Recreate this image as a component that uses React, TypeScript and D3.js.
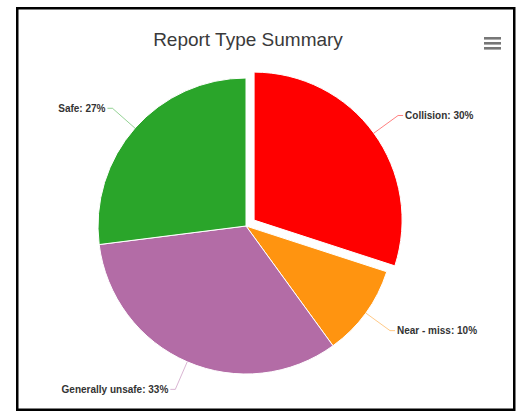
import React from "react";
import * as d3 from "d3";

const categories = ["Collision", "Near - miss", "Generally unsafe", "Safe"];
const values = [30, 10, 33, 27];
const colors = ["#ff0000", "#ff9410", "#b36ca6", "#2aa52a"];
const sliced = [true, false, false, false];

const W = 520;
const H = 411;
const cx = 246;
const cy = 226;
const R = 148;
const slicedOffset = 10;
const labelDistance = 30;

export default function App() {
  const pie = d3.pie<number>().sort(null).value((d) => d)(values);
  const arc = d3.arc<d3.PieArcDatum<number>>().innerRadius(0).outerRadius(R);
  const total = d3.sum(values);

  return (
    <svg
      width={W}
      height={H}
      style={{ position: "absolute", left: 0, top: 0, fontFamily: "'Liberation Sans', Arial, sans-serif" }}
    >
      <rect x={0} y={0} width={W} height={H} fill="#fff" />
      <rect x={17.25} y={8.25} width={497} height={401.5} fill="#fff" stroke="#000" strokeWidth={2.5} />
      <text x={248} y={46} textAnchor="middle" fontSize={19} fill="#3a3a3a">
        Report Type Summary
      </text>
      <g fill="#777">
        {[0, 1, 2].map((i) => (
          <rect key={i} x={484} y={37 + i * 5} width={17} height={2.6} />
        ))}
      </g>
      {pie.map((p, i) => {
        const mid = (p.startAngle + p.endAngle) / 2;
        const off = sliced[i] ? slicedOffset : 0;
        const ox = cx + off * Math.sin(mid);
        const oy = cy - off * Math.cos(mid);
        const ex = ox + R * Math.sin(mid);
        const ey = oy - R * Math.cos(mid);
        const lx = ox + (R + labelDistance) * Math.sin(mid);
        const ly = oy - (R + labelDistance) * Math.cos(mid);
        const right = Math.sin(mid) > 0;
        const pct = Math.round((values[i] / total) * 100);
        return (
          <g key={categories[i]}>
            <path
              d={arc(p) || ""}
              transform={`translate(${ox},${oy})`}
              fill={colors[i]}
              stroke="#fff"
              strokeWidth={1}
            />
            <polyline
              points={`${ex},${ey} ${lx},${ly} ${lx + (right ? 5 : -5)},${ly}`}
              fill="none"
              stroke={colors[i]}
              strokeOpacity={0.5}
              strokeWidth={1}
            />
            <text
              x={lx + (right ? 7 : -7)}
              y={ly}
              dy="0.35em"
              textAnchor={right ? "start" : "end"}
              fontSize={10}
              fontWeight="bold"
              fill="#333"
            >
              {`${categories[i]}: ${pct}%`}
            </text>
          </g>
        );
      })}
    </svg>
  );
}
